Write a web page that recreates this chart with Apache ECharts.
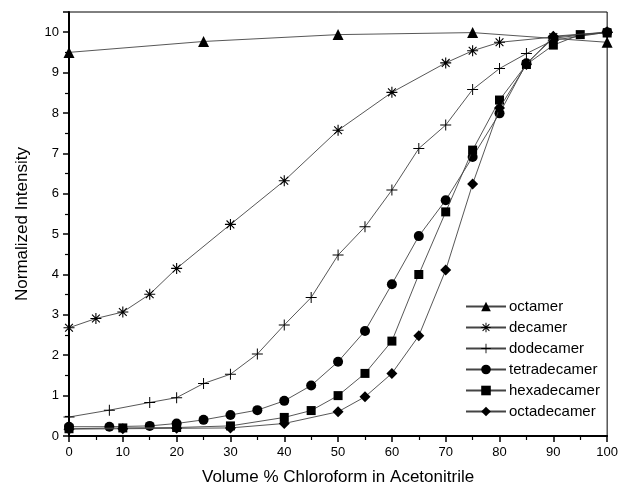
<!DOCTYPE html>
<html>
<head>
<meta charset="utf-8">
<script src="https://cdn.jsdelivr.net/npm/echarts@6/dist/echarts.min.js"></script>
<style>
html,body{margin:0;padding:0;background:#fff;}
#c{width:621px;height:494px;}
</style>
</head>
<body>
<div id="c"></div>
<script>
var seriesNames = ['octamer','decamer','dodecamer','tetradecamer','hexadecamer','octadecamer'];

var octamerX = [0,25,50,75,100];
var octamerY = [9.5,9.77,9.94,9.99,9.75];

var decamerX = [0,5,10,15,20,30,40,50,60,70,75,80,90,100];
var decamerY = [2.68,2.91,3.07,3.51,4.15,5.24,6.32,7.57,8.51,9.24,9.54,9.75,9.88,10.0];

var dodecamerX = [0,7.5,15,20,25,30,35,40,45,50,55,60,65,70,75,80,85,90,100];
var dodecamerY = [0.47,0.64,0.83,0.95,1.3,1.53,2.03,2.75,3.43,4.48,5.18,6.09,7.12,7.7,8.58,9.1,9.47,9.8,10.0];

var tetradecamerX = [0,7.5,15,20,25,30,35,40,45,50,55,60,65,70,75,80,85,90,100];
var tetradecamerY = [0.23,0.23,0.25,0.31,0.4,0.52,0.64,0.87,1.25,1.84,2.6,3.76,4.95,5.84,6.91,7.99,9.23,9.85,10.0];

var hexadecamerX = [0,10,20,30,40,45,50,55,60,65,70,75,80,85,90,95,100];
var hexadecamerY = [0.18,0.2,0.21,0.25,0.46,0.63,1.0,1.55,2.35,4.0,5.55,7.08,8.32,9.2,9.68,9.94,9.98];

var octadecamerX = [0,10,20,30,40,50,55,60,65,70,75,80,85,90,100];
var octadecamerY = [0.17,0.18,0.19,0.2,0.31,0.6,0.97,1.55,2.48,4.11,6.24,8.12,9.2,9.9,10.0];

var xTicks = [0,10,20,30,40,50,60,70,80,90,100];
var yTicks = [0,1,2,3,4,5,6,7,8,9,10];

function pairs(xs, ys){ return xs.map(function(x,i){ return [x, ys[i]]; }); }

var asteriskPath = 'path://M-1,-10L1,-10L1,10L-1,10Z M-10,-1L10,-1L10,1L-10,1Z M-6.36,-7.78L7.78,6.36L6.36,7.78L-7.78,-6.36Z M-7.78,6.36L6.36,-7.78L7.78,-6.36L-6.36,7.78Z';
var plusPath = 'path://M-0.9,-10L0.9,-10L0.9,10L-0.9,10Z M-10,-0.9L10,-0.9L10,0.9L-10,0.9Z';

var symbols = ['triangle', asteriskPath, plusPath, 'circle', 'rect', 'diamond'];
var sizes = [11, 11, 11, 10, 9, 11];
var dataSets = [
  pairs(octamerX, octamerY),
  pairs(decamerX, decamerY),
  pairs(dodecamerX, dodecamerY),
  pairs(tetradecamerX, tetradecamerY),
  pairs(hexadecamerX, hexadecamerY),
  pairs(octadecamerX, octadecamerY)
];

var font = 'Liberation Sans, Arial, Helvetica, sans-serif';

var series = seriesNames.map(function(n, i){
  return {
    name: n,
    type: 'line',
    data: dataSets[i],
    symbol: symbols[i],
    symbolSize: sizes[i],
    showAllSymbol: true,
    lineStyle: {color: '#444', width: 0.9},
    itemStyle: {color: '#000', borderWidth: 0},
    emphasis: {disabled: true},
    animation: false,
    z: 2 + i
  };
});

var chart = echarts.init(document.getElementById('c'), null, {renderer: 'canvas'});
chart.setOption({
  backgroundColor: '#fff',
  animation: false,
  grid: {left: 69, right: 13, top: 12, bottom: 58, show: true, borderColor: '#000', borderWidth: 1},
  legend: {
    orient: 'vertical',
    left: 460,
    top: 294,
    itemWidth: 40,
    itemHeight: 12,
    itemGap: 6,
    data: seriesNames,
    textStyle: {fontFamily: font, fontSize: 15, color: '#000', padding: [0,0,0,-2]},
    selectedMode: false
  },
  xAxis: {
    type: 'value',
    min: 0, max: 100, interval: 10,
    name: 'Volume % Chloroform in Acetonitrile',
    nameLocation: 'middle',
    nameGap: 33,
    nameTextStyle: {fontFamily: font, fontSize: 17, color: '#000'},
    axisLine: {show: true, onZero: false, lineStyle: {color: '#000', width: 2}},
    axisTick: {show: true, inside: false, length: 6, lineStyle: {color: '#000', width: 1.5}},
    minorTick: {show: true, splitNumber: 2, length: 4, lineStyle: {color: '#000', width: 1.2}},
    axisLabel: {fontFamily: font, fontSize: 13, color: '#000', margin: 10,
      customValues: xTicks},
    splitLine: {show: false}
  },
  yAxis: {
    type: 'value',
    min: 0, max: 10.5, interval: 1,
    name: 'Normalized Intensity',
    nameLocation: 'middle',
    nameGap: 38,
    nameTextStyle: {fontFamily: font, fontSize: 17, color: '#000'},
    axisLine: {show: true, onZero: false, lineStyle: {color: '#000', width: 2}},
    axisTick: {show: true, inside: false, length: 6, lineStyle: {color: '#000', width: 1.5}},
    minorTick: {show: true, splitNumber: 2, length: 4, lineStyle: {color: '#000', width: 1.2}},
    axisLabel: {fontFamily: font, fontSize: 13, color: '#000', margin: 10,
      customValues: yTicks},
    splitLine: {show: false}
  },
  series: series
});
</script>
</body>
</html>
